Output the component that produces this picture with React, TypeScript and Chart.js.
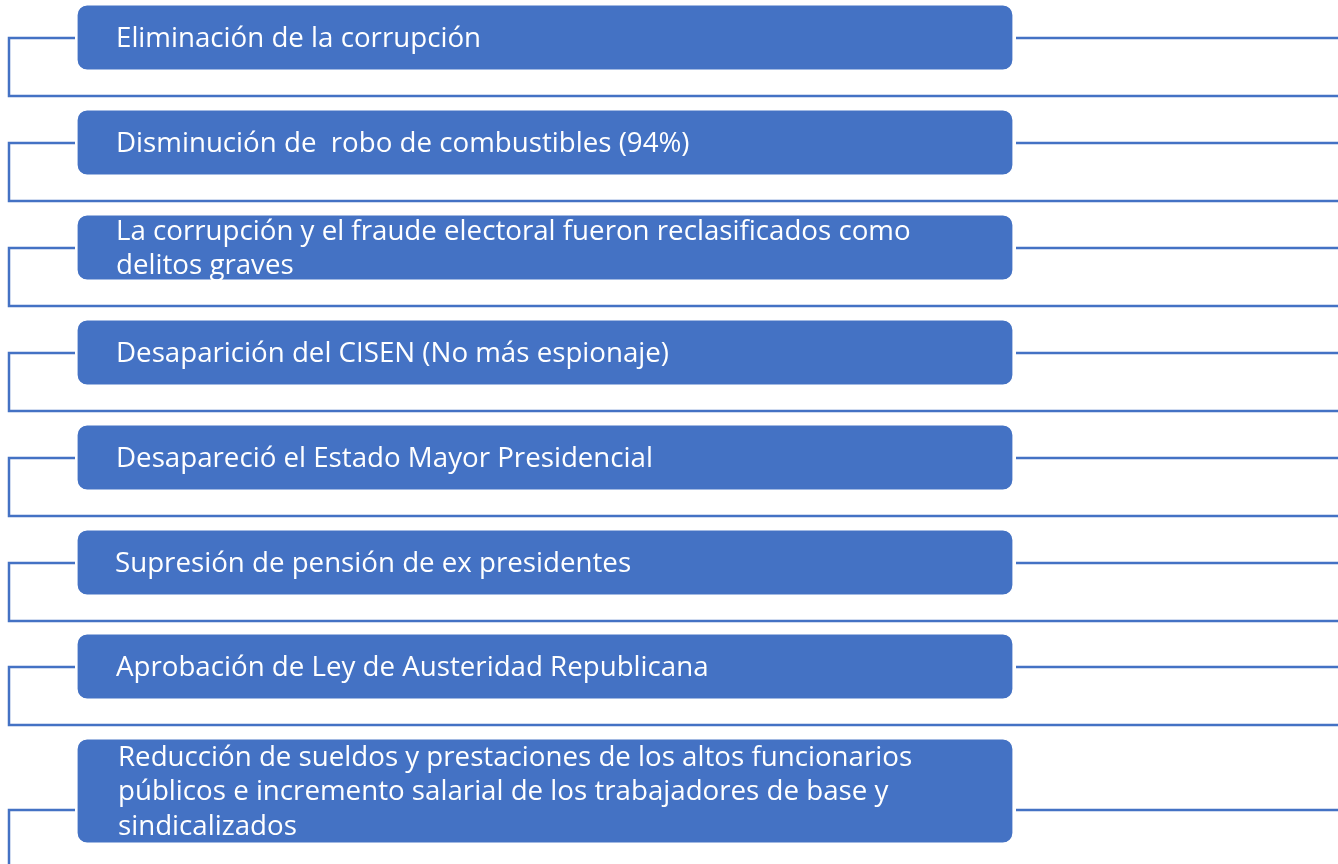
import { useEffect, useRef } from "react";
import { Chart, registerables } from "chart.js";

Chart.register(...registerables);

// ---- content ----
const itemLines: string[][] = [
  ["Eliminación de la corrupción"],
  ["Disminución de  robo de combustibles (94%)"],
  ["La corrupción y el fraude electoral fueron reclasificados como", "delitos graves"],
  ["Desaparición del CISEN (No más espionaje)"],
  ["Desapareció el Estado Mayor Presidencial"],
  ["Supresión de pensión de ex presidentes"],
  ["Aprobación de Ley de Austeridad Republicana"],
  [
    "Reducción de sueldos y prestaciones de los altos funcionarios",
    "públicos e incremento salarial de los trabajadores de base y",
    "sindicalizados",
  ],
];

// ---- layout (diagram units = page pixels) ----
const boxTop = [5, 110, 215, 320, 425, 530, 634, 739];
const boxBottom = [70, 175, 280, 385, 490, 595, 699, 843];
const linkY = [38, 143, 248, 353, 458, 563, 667, 810];
const dropY = [96, 201, 306, 411, 516, 621, 725, 900];
const textXs = [116, 116, 116, 116, 116, 115, 116, 118];
const boxLeft = 77;
const boxRight = 1013;
const railX = 9;
const W = 1338;
const H = 864;

const BLUE = "#4472C4";
const FONT_FAMILY = '"Open Sans", "Lato", sans-serif';

export default function App() {
  const ref = useRef<HTMLCanvasElement | null>(null);

  useEffect(() => {
    document.body.style.margin = "0";
    const canvas = ref.current;
    if (!canvas) return;

    const datasets: any[] = [];
    itemLines.forEach((_, i) => {
      datasets.push({
        data: [
          { x: boxLeft - 2, y: linkY[i] },
          { x: railX, y: linkY[i] },
          { x: railX, y: dropY[i] },
          { x: W, y: dropY[i] },
        ],
        showLine: true,
        borderColor: BLUE,
        borderWidth: 2.5,
        pointRadius: 0,
        fill: false,
        tension: 0,
      });
      datasets.push({
        data: [
          { x: boxRight + 3, y: linkY[i] },
          { x: W, y: linkY[i] },
        ],
        showLine: true,
        borderColor: BLUE,
        borderWidth: 2.5,
        pointRadius: 0,
        fill: false,
        tension: 0,
      });
    });

    const boxPlugin = {
      id: "boxes",
      afterDatasetsDraw(chart: any) {
        const { ctx } = chart;
        const xs = chart.scales.x;
        const ys = chart.scales.y;
        ctx.save();
        itemLines.forEach((lines, i) => {
          const l = xs.getPixelForValue(boxLeft);
          const r = xs.getPixelForValue(boxRight);
          const t = ys.getPixelForValue(boxTop[i]);
          const b = ys.getPixelForValue(boxBottom[i]);
          ctx.beginPath();
          ctx.roundRect(l, t, r - l, b - t, 10);
          ctx.fillStyle = BLUE;
          ctx.fill();
          ctx.lineWidth = 1.2;
          ctx.strokeStyle = "#ffffff";
          ctx.stroke();

          const lh = 34.5;
          const cy = (t + b) / 2;
          const y0 = cy + 9.3 - ((lines.length - 1) * lh) / 2;
          ctx.fillStyle = "#ffffff";
          ctx.font = `27.7px ${FONT_FAMILY}`;
          ctx.textAlign = "left";
          ctx.textBaseline = "alphabetic";
          lines.forEach((s, k) => {
            ctx.fillText(s, xs.getPixelForValue(textXs[i]), y0 + k * lh);
          });
        });
        ctx.restore();
      },
    };

    const chart = new Chart(canvas, {
      type: "scatter",
      data: { datasets },
      options: {
        animation: false,
        responsive: false,
        maintainAspectRatio: false,
        events: [],
        layout: { padding: 0 },
        plugins: { legend: { display: false }, tooltip: { enabled: false } },
        scales: {
          x: { type: "linear", min: 0, max: W, display: false },
          y: { type: "linear", min: 0, max: H, reverse: true, display: false },
        },
      },
      plugins: [boxPlugin],
    });
    return () => chart.destroy();
  }, []);

  return (
    <div style={{ position: "fixed", left: 0, top: 0, width: W, height: H, background: "#fff" }}>
      <canvas ref={ref} width={W} height={H} style={{ display: "block" }} />
    </div>
  );
}
